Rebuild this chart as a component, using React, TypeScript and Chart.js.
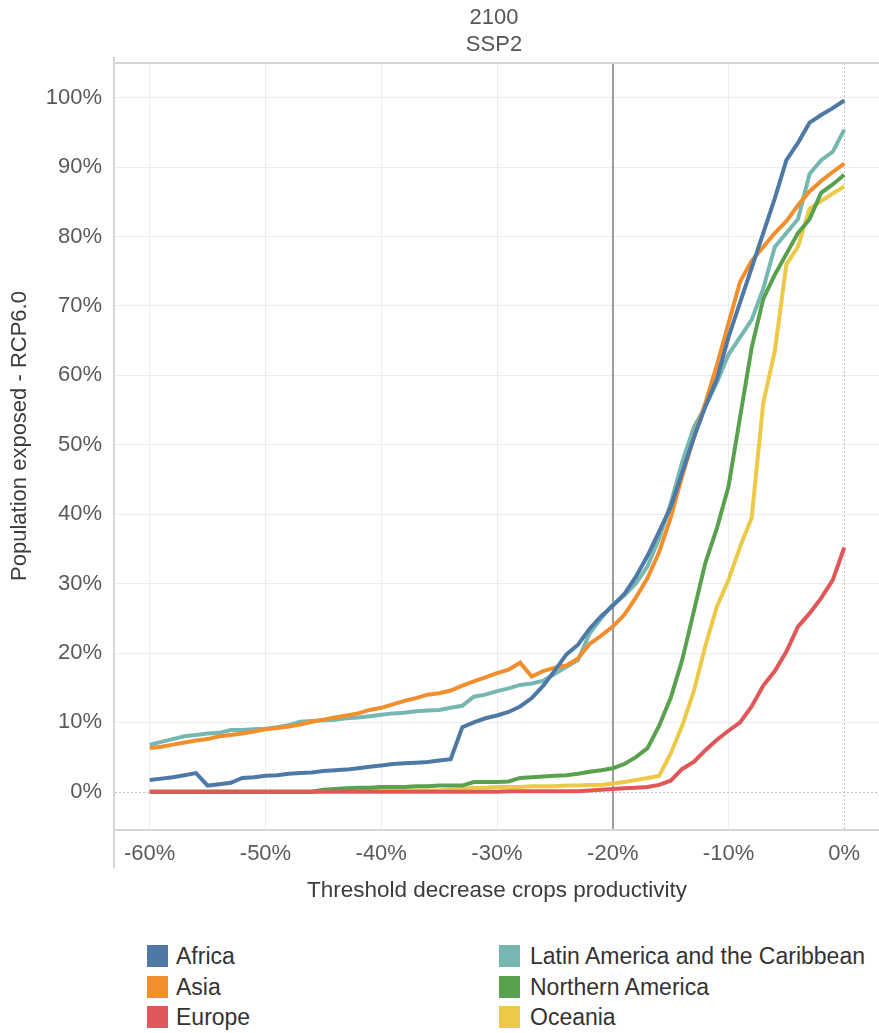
import React, { useEffect, useRef } from "react";
import { Chart, registerables } from "chart.js";

Chart.register(...registerables);

// Threshold decrease in crops productivity (%), -60 .. 0
const thresholds = [
  -60, -59, -58, -57, -56, -55, -54, -53, -52, -51,
  -50, -49, -48, -47, -46, -45, -44, -43, -42, -41,
  -40, -39, -38, -37, -36, -35, -34, -33, -32, -31,
  -30, -29, -28, -27, -26, -25, -24, -23, -22, -21,
  -20, -19, -18, -17, -16, -15, -14, -13, -12, -11,
  -10, -9, -8, -7, -6, -5, -4, -3, -2, -1,
  0,
];

const africa = [
  1.7, 1.9, 2.1, 2.4, 2.7, 0.9, 1.1, 1.3, 2.0, 2.1,
  2.3, 2.4, 2.6, 2.7, 2.8, 3.0, 3.1, 3.2, 3.4, 3.6,
  3.8, 4.0, 4.1, 4.2, 4.3, 4.5, 4.7, 9.3, 10.0, 10.6,
  11.0, 11.5, 12.3, 13.5, 15.3, 17.5, 19.8, 21.2, 23.5, 25.3,
  26.8, 28.5, 31.0, 34.0, 37.5, 41.0, 46.0, 51.0, 55.5, 59.5,
  65.5, 70.5, 75.5, 80.5, 85.5, 91.0, 93.5, 96.4, 97.5, 98.5,
  99.6,
];

const asia = [
  6.3, 6.5, 6.8, 7.1, 7.4, 7.6, 8.0, 8.2, 8.4, 8.7,
  9.0, 9.2, 9.4, 9.7, 10.1, 10.4, 10.7, 11.0, 11.3, 11.8,
  12.1, 12.6, 13.1, 13.5, 14.0, 14.2, 14.6, 15.3, 15.9, 16.5,
  17.1, 17.6, 18.6, 16.6, 17.4, 17.9, 18.2, 19.2, 21.3, 22.5,
  23.8, 25.5, 28.0, 30.8, 34.5, 39.5, 45.5, 51.0, 56.0, 61.5,
  67.5, 73.5, 76.5, 78.5, 80.5, 82.2, 84.5, 86.5, 88.0, 89.3,
  90.5,
];

const europe = [
  0, 0, 0, 0, 0, 0, 0, 0, 0, 0,
  0, 0, 0, 0, 0, 0, 0, 0, 0, 0,
  0, 0, 0, 0, 0, 0, 0, 0, 0, 0,
  0, 0.1, 0.1, 0.1, 0.1, 0.1, 0.1, 0.1, 0.2, 0.3,
  0.4, 0.5, 0.6, 0.7, 1.0, 1.6, 3.3, 4.3, 6.0, 7.5,
  8.8, 10.0, 12.3, 15.3, 17.4, 20.2, 23.8, 25.7, 27.9, 30.5,
  35.2,
];

const latinAmerica = [
  6.8, 7.2, 7.6, 8.0, 8.2, 8.4, 8.5, 8.9, 8.9, 9.0,
  9.1, 9.3, 9.6, 10.1, 10.2, 10.3, 10.4, 10.6, 10.7, 10.9,
  11.1, 11.3, 11.4, 11.6, 11.7, 11.8, 12.1, 12.4, 13.7, 14.0,
  14.5, 14.9, 15.4, 15.6, 16.0, 17.0, 18.0, 19.0, 22.8, 25.0,
  27.0, 28.3, 30.0, 32.5, 36.5, 41.5, 47.5, 52.5, 55.5, 59.0,
  63.0, 65.5, 68.0, 72.5, 78.5, 80.5, 82.5, 89.0, 91.0, 92.2,
  95.4,
];

const northernAmerica = [
  0, 0, 0, 0, 0, 0, 0, 0, 0, 0,
  0, 0, 0, 0, 0, 0.3, 0.4, 0.5, 0.6, 0.6,
  0.7, 0.7, 0.7, 0.8, 0.8, 0.9, 0.9, 0.9, 1.4, 1.4,
  1.4, 1.5, 2.0, 2.1, 2.2, 2.3, 2.4, 2.6, 2.9, 3.1,
  3.4, 4.0, 5.0, 6.3, 9.5, 13.5, 19.0, 26.0, 33.0, 38.0,
  44.0, 54.0, 64.0, 71.0, 74.5, 77.5, 80.5, 82.5, 86.3, 87.5,
  88.9,
];

const oceania = [
  0, 0, 0, 0, 0, 0, 0, 0, 0, 0,
  0, 0, 0, 0, 0, 0.2, 0.2, 0.2, 0.2, 0.2,
  0.2, 0.2, 0.2, 0.2, 0.2, 0.2, 0.3, 0.4, 0.6, 0.6,
  0.7, 0.7, 0.7, 0.8, 0.8, 0.8, 0.9, 0.9, 1.0, 1.0,
  1.2, 1.4, 1.7, 2.0, 2.3, 5.5, 9.5, 14.5, 21.0, 26.7,
  30.5, 35.3, 39.5, 56.0, 63.5, 76.0, 78.5, 84.0, 85.1, 86.2,
  87.2,
];

const xTicks = [-60, -50, -40, -30, -20, -10, 0];
const yTicks = [0, 10, 20, 30, 40, 50, 60, 70, 80, 90, 100];
const titleLines = ["2100", "SSP2"];
const xTitle = "Threshold decrease crops productivity";
const yTitle = "Population exposed - RCP6.0";

const seriesNames = [
  "Africa",
  "Asia",
  "Europe",
  "Latin America and the Caribbean",
  "Northern America",
  "Oceania",
];
const seriesValues = [africa, asia, europe, latinAmerica, northernAmerica, oceania];
const seriesColors = ["#4e79a7", "#f28e2b", "#e15759", "#76b7b2", "#59a14f", "#edc948"];

const FONT = "'Liberation Sans', Arial, sans-serif";

const decorPlugin = {
  id: "decor",
  beforeDatasetsDraw(chart: any) {
    const { ctx, chartArea: a, scales } = chart;
    const x = scales.x;
    const y = scales.y;
    ctx.save();
    ctx.strokeStyle = "#c4c4c4";
    ctx.lineWidth = 1;
    ctx.setLineDash([2, 2]);
    const y0 = Math.round(y.getPixelForValue(0)) + 0.5;
    ctx.beginPath();
    ctx.moveTo(a.left, y0);
    ctx.lineTo(a.right, y0);
    ctx.stroke();
    const x0 = Math.round(x.getPixelForValue(0)) + 0.5;
    ctx.beginPath();
    ctx.moveTo(x0, a.top);
    ctx.lineTo(x0, a.bottom);
    ctx.stroke();
    ctx.setLineDash([]);
    ctx.strokeStyle = "#9c9c9c";
    ctx.lineWidth = 2;
    const xr = Math.round(x.getPixelForValue(-20));
    ctx.beginPath();
    ctx.moveTo(xr, a.top);
    ctx.lineTo(xr, a.bottom);
    ctx.stroke();
    ctx.restore();
  },
  afterDraw(chart: any) {
    const { ctx, chartArea: a } = chart;
    ctx.save();
    ctx.strokeStyle = "#d6d6d6";
    ctx.lineWidth = 2;
    ctx.beginPath();
    ctx.moveTo(a.left, a.top);
    ctx.lineTo(a.right, a.top);
    ctx.moveTo(a.left, a.bottom);
    ctx.lineTo(a.right, a.bottom);
    ctx.moveTo(a.left - 1, a.top - 6);
    ctx.lineTo(a.left - 1, a.bottom + 38);
    ctx.stroke();
    ctx.fillStyle = "#555555";
    ctx.font = `22px ${FONT}`;
    ctx.textAlign = "center";
    ctx.textBaseline = "middle";
    const cx = (a.left + a.right) / 2 - 3;
    ctx.fillText(titleLines[0], cx, 18);
    ctx.fillText(titleLines[1], cx, 45);
    ctx.fillStyle = "#3c3c3c";
    ctx.translate(20, 436);
    ctx.rotate(-Math.PI / 2);
    ctx.fillText(yTitle, 0, 0);
    ctx.restore();
  },
};

function LegendItem({ name, color, left, top, gap }: { name: string; color: string; left: number; top: number; gap: number }) {
  return (
    <div
      style={{
        position: "absolute",
        left,
        top,
        height: 22,
        display: "flex",
        alignItems: "center",
        whiteSpace: "nowrap",
      }}
    >
      <div style={{ width: 21, height: 22, background: color, marginRight: gap }} />
      <span style={{ font: `23px ${FONT}`, color: "#333", lineHeight: "22px" }}>{name}</span>
    </div>
  );
}

export default function App() {
  const canvasRef = useRef<HTMLCanvasElement | null>(null);

  useEffect(() => {
    const canvas = canvasRef.current;
    if (!canvas) return;
    const datasets = seriesNames.map((name, i) => ({
      label: name,
      data: thresholds.map((t, j) => ({ x: t, y: seriesValues[i][j] })),
      borderColor: seriesColors[i],
      backgroundColor: seriesColors[i],
      borderWidth: 4,
      pointRadius: 0,
      tension: 0,
      fill: false,
    }));
    const chart = new Chart(canvas, {
      type: "line",
      data: { datasets },
      plugins: [decorPlugin],
      options: {
        responsive: false,
        animation: false,
        layout: { padding: { top: 63, left: 0, right: 0, bottom: 0 } },
        plugins: {
          legend: { display: false },
          title: { display: false },
          tooltip: { enabled: false },
        },
        scales: {
          x: {
            type: "linear",
            min: -63,
            max: 3,
            afterBuildTicks: (s: any) => {
              s.ticks = xTicks.map((v) => ({ value: v }));
            },
            afterFit: (s: any) => {
              s.height = 90;
            },
            border: { display: false },
            grid: {
              drawTicks: false,
              color: (c: any) =>
                c.tick && (c.tick.value === -20 || c.tick.value === 0) ? "rgba(0,0,0,0)" : "#ededed",
              lineWidth: 1,
            },
            ticks: {
              padding: 11,
              color: "#5a5a5a",
              font: { family: FONT, size: 22 },
              callback: (v: any) => `${v}%`,
              maxRotation: 0,
            },
            title: {
              display: true,
              text: xTitle,
              color: "#3c3c3c",
              font: { family: FONT, size: 22.5 },
              padding: { top: 0, bottom: 16 },
            },
          },
          y: {
            type: "linear",
            min: -5.5,
            max: 105,
            afterBuildTicks: (s: any) => {
              s.ticks = yTicks.map((v) => ({ value: v }));
            },
            afterFit: (s: any) => {
              s.width = 115;
            },
            border: { display: false },
            grid: {
              drawTicks: false,
              color: (c: any) => (c.tick && c.tick.value === 0 ? "rgba(0,0,0,0)" : "#ededed"),
              lineWidth: 1,
            },
            ticks: {
              padding: 13,
              color: "#5a5a5a",
              font: { family: FONT, size: 22 },
              callback: (v: any) => `${v}%`,
            },
          },
        },
      },
    });
    return () => chart.destroy();
  }, []);

  const legendPos = [
    { left: 147, top: 945, gap: 8 },
    { left: 147, top: 976, gap: 8 },
    { left: 147, top: 1006, gap: 8 },
    { left: 499, top: 945, gap: 10 },
    { left: 499, top: 976, gap: 10 },
    { left: 499, top: 1006, gap: 10 },
  ];

  return (
    <div style={{ position: "absolute", left: 0, top: 0, width: 879, height: 1033, background: "#fff", overflow: "hidden" }}>
      <canvas ref={canvasRef} width={879} height={920} style={{ display: "block", width: 879, height: 920 }} />
      {seriesNames.map((n, i) => (
        <LegendItem
          key={n}
          name={n}
          color={seriesColors[i]}
          left={legendPos[i].left}
          top={legendPos[i].top}
          gap={legendPos[i].gap}
        />
      ))}
    </div>
  );
}
